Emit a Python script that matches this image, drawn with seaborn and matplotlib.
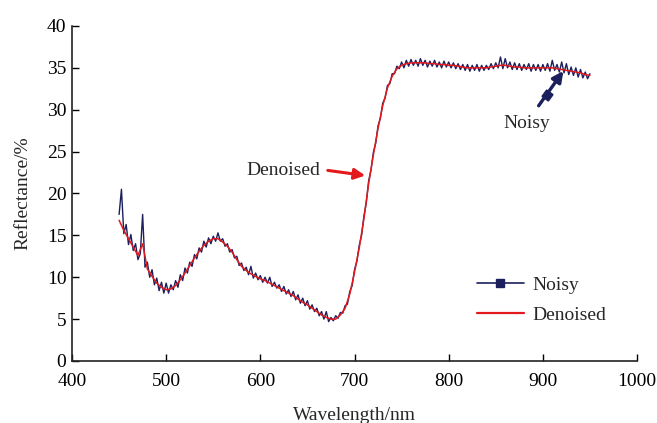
import numpy as np
import pandas as pd
import seaborn as sns
import matplotlib.pyplot as plt
from matplotlib.lines import Line2D

# wavelength grids (nm)
wl_noisy = np.arange(450, 950.1, 2.5)
wl_denoised = np.arange(450, 950.1, 5)

# noisy spectrum (2.5 nm steps)
noisy = [
    17.5, 20.5, 15.2, 16.3, 13.9, 15.1, 13.2, 14.0, 12.1, 12.8,
    17.5, 11.2, 11.8, 10.0, 10.9, 9.1, 9.9, 8.4, 9.4, 8.1,
    9.3, 8.1, 9.1, 8.5, 9.6, 8.8, 10.3, 9.6, 11.1, 10.5,
    11.8, 11.3, 12.7, 12.2, 13.5, 13.0, 14.3, 13.6, 14.7, 14.0,
    14.9, 14.3, 15.3, 14.3, 14.6, 13.7, 14.0, 13.0, 13.3, 12.3,
    12.5, 11.4, 11.7, 10.8, 11.2, 10.3, 11.3, 9.9, 10.5, 9.7,
    10.2, 9.4, 10.0, 9.3, 10.0, 8.9, 9.4, 8.7, 9.1, 8.3,
    8.9, 8.0, 8.5, 7.7, 8.3, 7.3, 7.9, 6.9, 7.5, 6.6,
    7.2, 6.2, 6.7, 5.9, 6.3, 5.4, 5.9, 5.0, 5.9, 4.7,
    5.2, 4.8, 5.4, 5.1, 5.8, 5.7, 6.6, 6.8, 8.3, 9.0,
    10.9, 11.9, 13.8, 15.0, 17.3, 18.9, 21.5, 22.8, 24.9, 26.0,
    28.1, 29.0, 30.8, 31.4, 32.9, 33.1, 34.3, 34.3, 35.2, 34.9,
    35.7, 35.0, 35.9, 35.2, 36.0, 35.3, 35.9, 35.2, 36.1, 35.3,
    35.9, 35.1, 35.8, 35.2, 35.9, 35.1, 35.7, 35.0, 35.8, 35.1,
    35.7, 35.0, 35.6, 34.9, 35.5, 34.8, 35.4, 34.7, 35.4, 34.6,
    35.3, 34.7, 35.4, 34.6, 35.3, 34.7, 35.3, 34.8, 35.5, 34.9,
    35.6, 35.0, 36.3, 34.9, 36.1, 35.0, 35.7, 34.8, 35.6, 34.8,
    35.5, 34.7, 35.4, 34.8, 35.5, 34.6, 35.4, 34.7, 35.4, 34.6,
    35.4, 34.7, 35.5, 34.6, 35.9, 34.7, 35.4, 34.5, 35.7, 34.4,
    35.5, 34.2, 35.1, 34.1, 35.0, 33.9, 34.8, 33.8, 34.5, 33.7,
    34.3,
]

# denoised spectrum (5 nm steps)
denoised = [
    16.8, 15.6, 14.6, 13.6, 12.6, 14.0, 11.0, 10.1, 9.3, 8.8,
    8.5, 8.6, 9.0, 9.7, 10.5, 11.4, 12.3, 13.1, 13.8, 14.3,
    14.6, 14.6, 14.2, 13.7, 13.0, 12.1, 11.3, 10.8, 10.4, 10.1,
    9.8, 9.6, 9.3, 9.0, 8.7, 8.4, 8.1, 7.8, 7.4, 7.0,
    6.7, 6.3, 5.9, 5.5, 5.2, 5.0, 5.0, 5.5, 6.3, 8.0,
    10.6, 13.5, 17.0, 21.2, 24.6, 27.8, 30.5, 32.6, 34.0, 34.9,
    35.3, 35.5, 35.6, 35.6, 35.6, 35.6, 35.5, 35.5, 35.4, 35.4,
    35.3, 35.3, 35.2, 35.1, 35.0, 35.0, 35.0, 35.0, 35.0, 35.1,
    35.2, 35.3, 35.3, 35.2, 35.1, 35.1, 35.0, 35.0, 35.0, 35.0,
    35.0, 35.0, 35.0, 34.9, 34.8, 34.7, 34.6, 34.5, 34.4, 34.2,
    34.1,
]

navy = '#1b1f5c'
red = '#e3191c'

df_n = pd.DataFrame({'Wavelength': wl_noisy, 'Reflectance': noisy})
df_d = pd.DataFrame({'Wavelength': wl_denoised, 'Reflectance': denoised})

sns.set_theme(style='ticks')
plt.rcParams['font.family'] = ['Liberation Serif', 'DejaVu Serif']

fig = plt.figure(figsize=(6.57, 4.23), dpi=100)
ax = fig.add_axes([0.1096, 0.1466, 0.8600, 0.7920])

sns.lineplot(data=df_n, x='Wavelength', y='Reflectance', color=navy, lw=1.0,
             sort=False, estimator=None, ax=ax)
sns.lineplot(data=df_d, x='Wavelength', y='Reflectance', color=red, lw=1.1,
             sort=False, estimator=None, ax=ax)

ax.set_xlim(400, 1000)
ax.set_ylim(0, 40)
ax.set_xticks(range(400, 1001, 100))
ax.set_yticks(range(0, 41, 5))
ax.tick_params(direction='in', length=5, width=1, labelsize=14, colors='black')
ax.tick_params(axis='x', pad=9)
ax.tick_params(axis='y', pad=4)
for s in ['top', 'right']:
    ax.spines[s].set_visible(False)
for s in ['left', 'bottom']:
    ax.spines[s].set_linewidth(1.2)
    ax.spines[s].set_color('#222222')

ax.set_xlabel('Wavelength/nm', fontsize=14, labelpad=12)
ax.set_ylabel('Reflectance/%', fontsize=14, labelpad=11)

# arrows with labels
ax.annotate('', xy=(714.3, 22.1), xytext=(668.7, 22.8),
            arrowprops=dict(arrowstyle='-|>', color=red, lw=2.2, mutation_scale=16))
ax.text(624, 22.8, 'Denoised', ha='center', va='center', fontsize=14)

ax.annotate('', xy=(923.5, 34.9), xytext=(893.8, 30.2),
            arrowprops=dict(arrowstyle='-|>', color=navy, lw=2.4, mutation_scale=16))
ax.plot([904.4], [31.8], marker=(4, 0, 99), color=navy, markersize=8)
ax.text(883, 28.3, 'Noisy', ha='center', va='center', fontsize=14)

handles = [Line2D([], [], color=navy, lw=1.2, marker='s', markersize=6),
           Line2D([], [], color=red, lw=1.6)]
ax.legend(handles, ['Noisy', 'Denoised'], loc='upper left',
          bbox_to_anchor=(0.686, 0.306), frameon=False, fontsize=14,
          handlelength=2.4, handletextpad=0.45, labelspacing=0.65)

fig.savefig('out.png', dpi=100)
